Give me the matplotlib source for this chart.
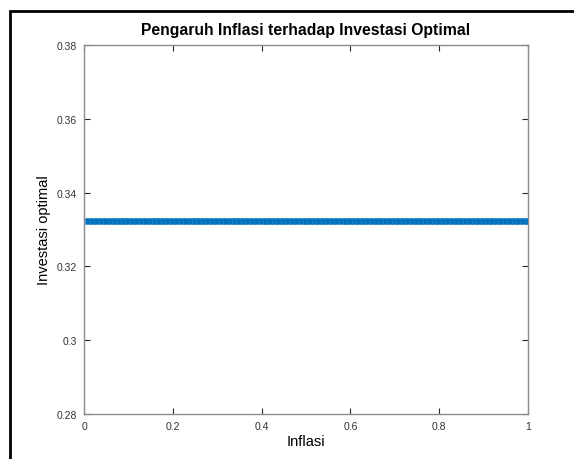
import matplotlib.pyplot as plt
from matplotlib.patches import Rectangle

plt.rcParams['font.family'] = ['Liberation Sans', 'DejaVu Sans']

# data: optimal investment stays constant over inflation 0.01..1
inflasi = [i / 100 for i in range(1, 101)]
investasi = [0.3322] * len(inflasi)

fig = plt.figure(figsize=(5.74, 4.6), dpi=100)
ax = fig.add_axes([84 / 574, 1 - 415 / 460, 444 / 574, 369 / 460])

ax.plot(inflasi, investasi, color='#0072BD', linewidth=3,
        marker='s', markersize=3.7, markeredgecolor='#2a86c8', markeredgewidth=0.4)

ax.set_xlim(0, 1)
ax.set_ylim(0.28, 0.38)
ax.set_xticks([0, 0.2, 0.4, 0.6, 0.8, 1])
ax.set_xticklabels(['0', '0.2', '0.4', '0.6', '0.8', '1'])
ax.set_yticks([0.28, 0.30, 0.32, 0.34, 0.36, 0.38])
ax.set_yticklabels(['0.28', '0.3', '0.32', '0.34', '0.36', '0.38'])
ax.tick_params(direction='in', length=4, width=0.8, colors='#262626',
               labelsize=7.5, top=True, right=True, pad=5)
ax.tick_params(labelcolor='#333333')
for s in ax.spines.values():
    s.set_color('#8c8c8c')
    s.set_linewidth(1)

ax.set_title('Pengaruh Inflasi terhadap Investasi Optimal', fontsize=11.3,
             fontweight='bold', pad=8)
ax.set_xlabel('Inflasi', fontsize=10.5, labelpad=2)
ax.set_ylabel('Investasi optimal', fontsize=10.5, labelpad=4)

# window frame, cut off on the right and bottom
fig.patches.append(Rectangle((9.5 / 574, -0.1), 1.2, 1 - 11.5 / 460 + 0.1,
                             transform=fig.transFigure, fill=False,
                             edgecolor='black', linewidth=2))

plt.savefig('out.png', dpi=100)
